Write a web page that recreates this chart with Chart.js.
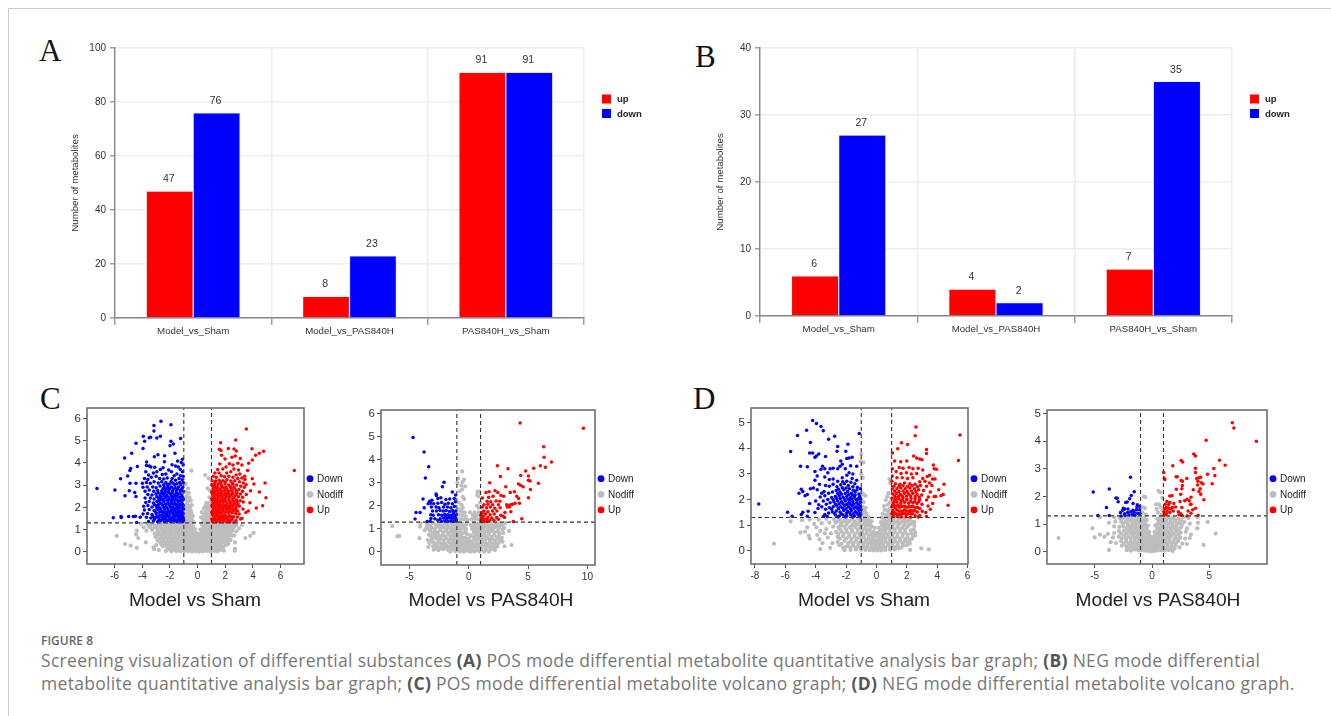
<!DOCTYPE html>
<html>
<head>
<meta charset="utf-8">
<title>Figure 8</title>
<script src="https://cdn.jsdelivr.net/npm/chart.js@4"></script>
<style>
  html, body { margin: 0; background: #fff; }
  body { position: relative; width: 1331px; height: 716px; overflow: hidden; font-family: "Liberation Sans", sans-serif; }
  canvas { position: absolute; filter: blur(0.35px); }
  .rule-top { position: absolute; left: 8px; right: 0; top: 8px; height: 1px; background: #ccc; }
  .rule-left { position: absolute; left: 8px; top: 8px; bottom: 0; width: 1px; background: #ccc; }
  .letter { position: absolute; font: 31px "Liberation Serif", serif; color: #111; line-height: 30px; }
  .vtitle { position: absolute; top: 589px; width: 240px; text-align: center; font-size: 19.2px; line-height: 22px; color: #222; }
  .cap { position: absolute; left: 41px; white-space: nowrap; font-family: "Open Sans", sans-serif; color: #777; }
  .line { font-size: 17.5px; letter-spacing: 0.3px; line-height: 22px; }
  .cap b { font-weight: 700; color: #555; }
</style>
</head>
<body>
<div class="rule-top"></div>
<div class="rule-left"></div>
<div class="letter" style="left:39px;top:36px">A</div>
<div class="letter" style="left:695px;top:42px">B</div>
<div class="letter" style="left:40px;top:384px">C</div>
<div class="letter" style="left:693px;top:384px">D</div>
<canvas id="barA"></canvas>
<canvas id="barB"></canvas>
<canvas id="volC1"></canvas>
<canvas id="volC2"></canvas>
<canvas id="volD1"></canvas>
<canvas id="volD2"></canvas>
<div class="vtitle" style="left:75px">Model vs Sham</div>
<div class="vtitle" style="left:371px">Model vs PAS840H</div>
<div class="vtitle" style="left:744px">Model vs Sham</div>
<div class="vtitle" style="left:1038px">Model vs PAS840H</div>
<div class="cap" style="top:632px;font-size:12px;font-weight:600;color:#666">FIGURE 8</div>
<div class="cap line" style="top:649px">Screening visualization of differential substances <b>(A)</b> POS mode differential metabolite quantitative analysis bar graph; <b>(B)</b> NEG mode differential</div>
<div class="cap line" style="top:672px">metabolite quantitative analysis bar graph; <b>(C)</b> POS mode differential metabolite volcano graph; <b>(D)</b> NEG mode differential metabolite volcano graph.</div>

<script>
// bar panels
const barCategories = ['Model_vs_Sham', 'Model_vs_PAS840H', 'PAS840H_vs_Sham'];
const aUp = [47, 8, 91];
const aDown = [76, 23, 91];
const bUp = [6, 4, 7];
const bDown = [27, 2, 35];
const aTicks = [0, 20, 40, 60, 80, 100];
const bTicks = [0, 10, 20, 30, 40];

// volcano panels, flat lists of x,y
const c1Down = [
-7.28,2.85,-5.98,2.78,-6.1,1.53,-5.54,1.59,-5.52,1.54,-4.99,1.59,-4.65,1.59,-4.5,1.6,-4.41,1.32,-5.25,2.52,-4.94,2.75,-4.55,2.67,-4.46,2.49,
-4.89,3.08,-4.46,3.08,-5.57,3.29,-5.06,3.41,-4.84,3.75,-4.9,3.66,-4.36,3.84,-5.28,4.22,-4.77,4.43,-3.95,4.65,-4.46,4.88,-3.83,4.97,-3.93,5.2,
-3.4,5.15,-3.5,5.13,-3.16,5.43,-3.16,5.68,-2.65,5.87,-1.93,5.72,-2.7,5.2,-2.95,5.12,-1.23,5.1,-1.93,4.97,-1.76,4.85,-2,4.77,-1.64,4.43,-2.87,4.37,
-3.13,4.28,-2.39,4.32,-1.1,4.16,-1.45,4.08,-1.18,4.02,-2.4,4.05,-3.69,4.04,-3.7,3.88,-3.5,3.86,-3.38,3.82,-3.1,3.8,-2.7,3.7,-2.5,3.78,-1.85,3.92,
-1.6,3.86,-1.4,3.82,-1.25,3.7,-1.05,3.9,-2.1,3.68,-1.9,3.6,-1.1,3.6,-3.75,3.6,-3.55,3.45,-3.2,3.55,-2.95,3.6,-2.55,3.48,-2.3,3.5,-1.7,3.42,-1.5,3.5,
-1.25,3.42,-1.05,3.4,-3.85,3.3,-3.6,3.25,-3.35,3.35,-3,3.4,-2.75,3.3,-2.45,3.28,-2.2,3.32,-1.85,3.3,-1.6,3.22,-1.35,3.3,-1.12,3.24,-4,3.08,-3.7,3.12,
-3.42,3.08,-3.15,3.15,-2.85,3.1,-2.6,3.15,-2.3,3.12,-2.05,3.05,-1.78,3.08,-1.5,3.06,-1.22,3.02,-1.04,3.12,-3.95,2.9,-3.65,2.92,-3.25,2.92,-3,2.88,
-2.72,2.96,-2.42,2.92,-2.15,2.9,-1.9,2.92,-1.62,2.88,-1.38,2.92,-1.08,2.9,-3.8,2.72,-3.5,2.78,-3.18,2.72,-2.9,2.76,-2.6,2.74,-2.35,2.72,-2.08,2.78,
-1.82,2.72,-1.55,2.74,-1.26,2.76,-1.04,2.72,-3.6,2.58,-3.3,2.55,-3.02,2.6,-2.72,2.56,-2.48,2.6,-2.22,2.56,-1.96,2.6,-1.68,2.56,-1.42,2.6,-1.15,2.55,
-3.8,2.42,-3.42,2.42,-3.15,2.38,-2.82,2.42,-2.58,2.36,-2.32,2.44,-2.05,2.38,-1.8,2.44,-1.55,2.38,-1.28,2.44,-1.04,2.38,-3.75,2.22,-3.5,2.26,-3.2,2.2,
-2.95,2.26,-2.7,2.2,-2.45,2.26,-2.15,2.22,-1.9,2.26,-1.65,2.2,-1.4,2.26,-1.15,2.2,-3.9,2.05,-3.6,2.08,-3.3,2.02,-3,2.08,-2.78,2,-2.52,2.08,-2.28,2.02,
-2.02,2.08,-1.78,2.02,-1.52,2.08,-1.28,2.02,-1.05,2.08,-3.85,1.88,-3.5,1.9,-3.15,1.86,-2.88,1.9,-2.62,1.84,-2.38,1.9,-2.12,1.86,-1.88,1.9,-1.64,1.85,
-1.4,1.9,-1.16,1.85,-1.02,1.92,-3.95,1.7,-3.62,1.72,-3.3,1.68,-3,1.72,-2.72,1.66,-2.48,1.72,-2.24,1.68,-2,1.72,-1.76,1.68,-1.52,1.73,-1.3,1.68,-1.06,1.72,
-4.15,1.55,-3.7,1.55,-3.38,1.52,-3.05,1.55,-2.8,1.5,-2.55,1.55,-2.32,1.5,-2.08,1.56,-1.85,1.5,-1.62,1.56,-1.4,1.5,-1.18,1.56,-1.03,1.5,-3.55,1.36,-3.2,1.4,
-2.9,1.35,-2.65,1.4,-2.4,1.35,-2.18,1.4,-1.95,1.35,-1.72,1.4,-1.5,1.35,-1.28,1.4,-1.08,1.35,-2.05,1.6,-1.72,1.8,-1.46,1.62,-1.12,1.62,-1.9,1.8,-1.3,1.8,
-1.58,1.96,-1.22,2.12,-1.7,2.14,-1.42,2.5,-1.74,2.34,-2.12,2.68,-2.7,2.34,-1.12,2.3,-1.32,1.52,-1.75,1.45,-2.2,1.78,-1.02,1.42,-1.1,1.75,
-1.14,1.44,-1.38,1.46,-1.6,1.43,-1.84,1.44,-2.05,1.46,-2.28,1.43,-2.52,1.46,-2.78,1.43,-3.1,1.47,-1.08,1.6,-1.24,1.62,-1.56,1.63,-1.78,1.6,-2.2,1.62,-2.42,1.6,
-2.66,1.62,-2.92,1.6,-3.22,1.58,-1.2,1.78,-1.42,1.78,-1.62,1.8,-1.84,1.78,-2.06,1.8,-2.32,1.78,-2.55,1.8,-2.78,1.78,-3.08,1.82,-1.1,1.96,-1.34,1.96,-1.46,2,-1.72,1.95,
-1.95,2,-2.2,1.96,-2.45,1.98,-2.7,1.94,-2.95,1.98,-1.1,2.14,-1.34,2.14,-1.55,2.14,-1.86,2.16,-2.08,2.14,-2.32,2.14,-2.58,2.14,-2.82,2.14,-3.12,2.12,-1.22,2.32,-1.45,2.32,
-1.66,2.32,-1.92,2.34,-2.2,2.32,-2.45,2.34,-2.85,2.3,-1.1,2.46,-1.6,2.5,-1.9,2.5,-2.14,2.46,-2.42,2.5,-2.65,2.48,-2.95,2.48,-1.28,2.64,-1.54,2.64,-1.82,2.66,-2.36,2.64,
-2.6,2.65,-2.85,2.66,-1.15,2.82,-1.45,2.82,-1.75,2.82,-2.02,2.84,-2.28,2.82,-2.5,2.84,-1.3,3.12,-1.65,3,-1.92,3.16,-2.18,3,-2.45,3.02
];
const c1Up = [
6.99,3.66,3.52,5.53,2.75,5.03,1.66,4.91,3.93,4.64,4.77,4.52,4.46,4.43,4.19,4.34,1.57,4.61,1.69,4.56,2.22,4.65,2.63,4.62,2.8,4.53,1.73,4.34,1.98,4.17,
2.48,4.25,2.72,4.31,3.08,4.2,3.95,4.13,3.69,3.98,3.61,3.66,3.95,3.29,4.87,3.09,4.07,3.05,4.46,2.69,3.83,2.75,4.94,2.43,4.7,2.07,4.24,1.97,3.78,2.21,
3.66,1.83,3.49,1.77,3.11,1.47,3.2,1.5,3.52,2.58,2.9,3.98,2.55,3.9,2.3,3.96,2.05,3.82,1.6,3.95,1.82,3.72,2.62,3.72,2.95,3.68,3.2,3.9,1.45,3.7,1.25,3.55,
1.55,3.55,2.1,3.55,2.4,3.6,2.78,3.45,3.05,3.5,3.4,3.4,1.12,3.4,1.35,3.35,1.7,3.42,1.95,3.38,2.25,3.4,2.55,3.35,2.9,3.3,3.2,3.32,3.42,3.25,1.05,3.2,1.3,3.18,
1.55,3.22,1.82,3.2,2.12,3.24,2.4,3.18,2.68,3.2,3.02,3.15,3.3,3.1,3.5,3.02,1.02,3.02,1.22,3,1.48,3.05,1.72,3,1.98,3.06,2.25,3,2.55,3.04,2.82,3,3.12,2.95,3.38,2.9,
1.12,2.84,1.38,2.85,1.62,2.82,1.88,2.88,2.12,2.82,2.42,2.86,2.7,2.82,2.98,2.8,3.25,2.72,1.02,2.68,1.25,2.7,1.5,2.66,1.75,2.7,2,2.66,2.28,2.7,2.55,2.66,2.85,2.66,
3.1,2.6,1.1,2.52,1.35,2.55,1.6,2.5,1.85,2.55,2.12,2.5,2.4,2.55,2.68,2.5,2.95,2.48,3.25,2.45,1.02,2.38,1.22,2.36,1.45,2.4,1.72,2.35,1.98,2.4,2.25,2.35,2.52,2.38,
2.8,2.34,3.08,2.3,1.1,2.22,1.35,2.22,1.6,2.18,1.85,2.24,2.12,2.18,2.38,2.22,2.65,2.18,2.92,2.16,3.3,2.24,1.03,2.08,1.25,2.06,1.48,2.1,1.72,2.04,1.98,2.08,2.25,2.04,
2.5,2.06,2.78,2.02,3.02,2.05,1.12,1.92,1.35,1.94,1.6,1.9,1.85,1.94,2.1,1.9,2.35,1.92,2.62,1.88,2.9,1.84,3.28,1.92,1.03,1.78,1.22,1.76,1.48,1.8,1.72,1.75,1.98,1.78,
2.22,1.74,2.48,1.76,2.75,1.72,3,1.7,1.1,1.62,1.35,1.64,1.6,1.6,1.85,1.62,2.1,1.6,2.35,1.62,2.6,1.58,2.88,1.56,1.02,1.48,1.22,1.46,1.48,1.5,1.72,1.46,1.98,1.48,
2.22,1.44,2.48,1.46,2.78,1.42,1.1,1.34,1.35,1.35,1.6,1.34,1.85,1.36,2.1,1.34,2.35,1.36,2.62,1.33,1.2,1.6,1.08,1.82,1.18,2,1.42,2.3,1.3,1.45,1.78,1.54,1.92,2.3,
2.2,2.62,1.4,1.72,1.68,1.88,1.52,2.62,1.08,2.6,1.28,2.9,1.58,1.72,1.18,2.14,1.95,1.68,2.22,1.95,1.65,2.28,
1.12,1.42,1.38,1.42,1.6,1.45,1.85,1.42,2.1,1.46,2.35,1.42,1.24,1.54,1.48,1.56,1.72,1.58,1.96,1.55,2.22,1.58,2.48,1.55,1.12,1.72,1.3,1.82,1.54,1.86,1.8,1.84,2.05,1.84,
2.3,1.82,2.55,1.82,2.8,1.86,1.28,1.98,1.52,2,1.78,2,2.02,1.98,2.28,1.98,2.52,1.95,2.75,1.94,1.15,2.3,1.38,2.12,1.62,2.08,1.86,2.12,2.1,2.1,2.35,2.12,2.6,2.12,2.85,2.1,
1.28,2.3,1.52,2.3,1.78,2.3,2.02,2.28,2.3,2.28,2.58,2.28,2.86,2.26,1.22,2.44,1.5,2.46,1.78,2.45,2.05,2.46,2.32,2.46,2.6,2.44,1.25,2.6,1.45,2.58,1.72,2.6,1.98,2.58,2.22,2.6,
2.5,2.6,2.78,2.58,1.18,2.76,1.42,2.76,1.68,2.76,1.95,2.76,2.2,2.74,2.48,2.76,2.8,2.74,1.15,2.92,1.45,2.94,1.75,2.92,2.05,2.92,2.35,2.94,2.62,2.92,1.25,3.1,1.65,3.12,2,3.14,2.5,3.1
];
const c1Grey = [
-0.45,3.65,0.55,3.45,0.8,3.3,-0.85,3.05,-0.7,2.85,-0.9,2.7,-0.65,2.65,0.9,2.75,0.72,2.85,-0.8,2.5,-0.6,2.45,-0.9,2.35,-0.72,2.25,-0.5,2.3,0.85,2.45,0.92,2.25,
0.62,2.2,-0.85,2.1,-0.62,2.05,-0.42,2.1,0.72,2.05,0.45,1.95,0.88,2,-0.9,1.92,-0.72,1.88,-0.5,1.85,0.82,1.85,0.6,1.8,0.3,1.78,-0.92,1.72,-0.75,1.7,-0.55,1.66,
-0.35,1.62,0.92,1.68,0.7,1.62,0.5,1.6,0.25,1.55,-0.88,1.55,-0.65,1.5,-0.42,1.45,0.85,1.5,0.62,1.45,0.4,1.4,-0.96,1.4,-0.75,1.36,-0.5,1.32,-0.3,1.34,0.95,1.35,
0.72,1.32,0.5,1.28,0.32,1.24,-4.1,1.25,-3.6,1.22,-3.2,1.26,-2.8,1.24,-2.5,1.25,-2.2,1.24,-1.9,1.26,-1.6,1.25,-1.3,1.24,-1.05,1.26,-0.8,1.2,-0.55,1.18,-0.35,1.15,
-0.18,1.02,1.05,1.25,1.3,1.24,1.6,1.25,1.9,1.24,2.2,1.26,2.5,1.22,2.8,1.2,3.2,1.2,-3.9,1.1,-3.5,1.12,-3.1,1.1,-2.7,1.12,-2.4,1.08,-2.1,1.12,-1.8,1.1,-1.5,1.12,
-1.2,1.1,-0.9,1.1,-0.65,1.05,-0.42,1.02,0.2,1,0.42,1.1,0.68,1.12,0.95,1.1,1.22,1.12,1.5,1.08,1.78,1.12,2.05,1.1,2.35,1.08,2.6,1.1,3,1.05,-4.4,0.95,-3.7,0.95,
-3.3,0.98,-2.9,0.95,-2.6,0.98,-2.3,0.94,-2,0.96,-1.7,0.98,-1.42,0.94,-1.1,0.96,-0.85,0.95,-0.6,0.9,-0.35,0.88,-0.12,0.85,0.1,0.82,0.32,0.9,0.55,0.95,0.82,0.96,
1.1,0.95,1.38,0.98,1.65,0.94,1.92,0.96,2.2,0.94,2.5,0.95,2.78,0.92,4.05,0.85,-4.3,0.62,-3.1,0.82,-2.75,0.8,-2.45,0.82,-2.15,0.78,-1.85,0.8,-1.55,0.82,-1.25,0.78,
-0.98,0.8,-0.72,0.78,-0.48,0.72,-0.25,0.68,0,0.62,0.22,0.68,0.45,0.76,0.7,0.8,0.98,0.8,1.25,0.82,1.52,0.78,1.8,0.8,2.08,0.78,2.38,0.8,2.65,0.74,3.8,0.72,3.45,0.62,
-5.85,0.72,-4.45,0.78,-3.05,0.66,-2.6,0.65,-2.3,0.66,-2,0.62,-1.7,0.66,-1.4,0.64,-1.12,0.62,-0.88,0.64,-0.62,0.6,-0.38,0.55,-0.12,0.46,0.12,0.5,0.34,0.58,0.58,0.62,
0.85,0.64,1.12,0.66,1.4,0.62,1.68,0.64,1.95,0.62,2.22,0.64,2.15,0.45,-3.75,0.42,-2.9,0.5,-2.48,0.5,-2.18,0.48,-1.88,0.5,-1.58,0.48,-1.28,0.5,-1,0.48,-0.75,0.46,-0.5,0.42,
-0.25,0.36,0,0.3,0.25,0.38,0.48,0.45,0.72,0.48,1,0.5,1.28,0.48,1.55,0.5,1.82,0.48,2.05,0.3,2.7,0.42,-5.25,0.35,-4.85,0.28,-4.4,0.18,-3.2,0.2,-3,0.3,-2.6,0.33,-2.3,0.34,
-2,0.32,-1.7,0.34,-1.4,0.32,-1.12,0.34,-0.85,0.32,-0.6,0.28,-0.35,0.22,-0.1,0.16,0.15,0.2,0.38,0.28,0.62,0.32,0.88,0.34,1.15,0.32,1.42,0.34,1.7,0.3,2.7,0.14,-3.15,0.12,
-2.8,0.08,-2.2,0.18,-1.9,0.16,-1.6,0.18,-1.3,0.16,-1.02,0.18,-0.75,0.16,-0.5,0.12,-0.25,0.08,0,0.06,0.22,0.08,0.48,0.14,0.75,0.18,1,0.16,1.28,0.18,1.55,0.14,1.9,0.05,2.68,0.05,
-2.3,0.03,-1.9,0.02,-1.55,0.03,-1.25,0.02,-0.95,0.03,-0.68,0.02,-0.4,0.01,-0.12,0.02,0.12,0.01,0.38,0.02,0.65,0.03,0.92,0.02,1.2,0.03,1.45,0.02,
-3.4,1.18,-3,1.16,-2.65,1.18,-2.35,1.17,-2.05,1.18,-1.75,1.16,-1.45,1.18,-1.15,1.17,-0.9,1.18,-0.68,1.14,0.55,1.18,0.8,1.16,1.12,1.18,1.42,1.17,1.72,1.18,2.02,1.17,2.32,1.16,2.65,1.15,
-3.3,1.03,-2.9,1.04,-2.55,1.03,-2.25,1.02,-1.95,1.04,-1.65,1.03,-1.35,1.02,-1.05,1.03,-0.78,1.02,-0.5,0.96,0.3,0.96,0.52,1.02,0.8,1.03,1.08,1.02,1.35,1.04,1.65,1.02,1.92,1.03,2.2,1.02,2.5,1.02,
-2.85,0.88,-2.52,0.88,-2.22,0.87,-1.92,0.88,-1.62,0.89,-1.32,0.87,-1.02,0.88,-0.75,0.87,-0.52,0.82,-0.28,0.8,-0.05,0.74,0.2,0.76,0.42,0.84,0.68,0.88,0.95,0.88,1.25,0.89,1.52,0.87,1.8,0.88,2.08,0.87,2.38,0.88,
-2.9,0.72,-2.6,0.73,-2.3,0.72,-2,0.73,-1.7,0.72,-1.4,0.73,-1.1,0.71,-0.85,0.72,-0.6,0.68,-0.35,0.62,-0.12,0.56,0.1,0.6,0.35,0.66,0.6,0.7,0.88,0.72,1.15,0.73,1.42,0.71,1.7,0.72,1.98,0.71,2.25,0.72,2.5,0.72,
-2.75,0.58,-2.45,0.58,-2.15,0.57,-1.85,0.58,-1.55,0.57,-1.25,0.58,-0.98,0.56,-0.75,0.54,-0.5,0.5,-0.25,0.44,0,0.4,0.24,0.46,0.48,0.54,0.72,0.56,1,0.58,1.28,0.57,1.55,0.58,1.82,0.56,2.08,0.56,2.38,0.52,
-2.7,0.42,-2.35,0.42,-2.05,0.41,-1.75,0.42,-1.45,0.41,-1.15,0.42,-0.88,0.4,-0.65,0.36,-0.4,0.3,-0.12,0.26,0.12,0.28,0.36,0.36,0.6,0.4,0.86,0.42,1.14,0.41,1.42,0.42,1.68,0.41,1.95,0.4,2.22,0.36,
-2.5,0.25,-2.15,0.25,-1.85,0.24,-1.55,0.26,-1.25,0.25,-0.95,0.26,-0.7,0.24,-0.45,0.2,-0.2,0.16,0.05,0.14,0.28,0.18,0.52,0.22,0.78,0.26,1.05,0.25,1.32,0.26,1.6,0.24,1.85,0.22,
-2.05,0.1,-1.75,0.09,-1.45,0.1,-1.15,0.09,-0.85,0.1,-0.6,0.08,-0.35,0.06,-0.1,0.08,0.15,0.06,0.38,0.09,0.62,0.1,0.88,0.09,1.15,0.1,1.42,0.09,1.72,0.08,
-0.75,1.48,-0.55,1.42,-0.82,1.62,-0.62,1.58,-0.42,1.55,-0.68,1.78,-0.45,1.74,-0.8,1.98,-0.55,1.95,-0.75,2.15,-0.62,2.32,0.38,1.5,0.6,1.55,0.8,1.6,0.45,1.7,0.65,1.7,0.9,1.8,0.7,1.92,0.55,2.05,0.82,2.15,0.75,1.38
];
const c2Down = [
-4.69,4.97,-3.76,4.35,-3.37,3.7,-3.65,3.22,-2.08,3.03,-2.22,2.84,-1.38,2.61,-2.75,2.52,-2.72,2.45,-1.1,2.48,-3.85,2.3,-4.44,1.72,-4.1,1.72,-4.52,1.43,-3.3,2.2,-3.1,2.25,
-2.6,2.32,-2.35,2.36,-1.92,2.28,-1.6,2.3,-1.22,2.32,-3.42,2.1,-3.2,2.12,-2.95,2.1,-2.6,2.12,-2.28,2.15,-2,2.08,-1.72,2.12,-1.38,2.1,-1.12,2.18,-3.75,1.92,-3.15,1.95,-2.75,1.95,
-2.5,1.92,-2.12,1.96,-1.78,1.95,-1.5,1.92,-1.2,1.98,-3.05,1.78,-2.72,1.78,-2.42,1.8,-2.15,1.78,-1.9,1.8,-1.62,1.76,-1.35,1.8,-1.08,1.78,-3.2,1.62,-3,1.6,-2.55,1.62,-2.28,1.6,
-2.02,1.64,-1.75,1.62,-1.5,1.6,-1.25,1.64,-1.05,1.62,-3.18,1.46,-2.85,1.45,-2.4,1.45,-2.12,1.48,-1.88,1.45,-1.62,1.48,-1.38,1.46,-1.12,1.48,-3.5,1.32,-3.25,1.34,-2.3,1.33,-2.02,1.35,
-1.78,1.33,-1.52,1.35,-1.28,1.33,-1.05,1.35,-2.6,1.38,-1.95,1.55,-1.7,1.5,-1.42,1.52,-1.18,1.55,-1.3,1.72,-1.08,1.42
];
const c2Up = [
4.33,5.61,9.66,5.38,6.32,4.57,6.35,4.12,6.97,3.91,2.42,3.75,3.31,3.62,6.46,3.68,6.04,3.75,5.48,3.64,4.8,3.52,2.67,3.28,4.38,3.32,5.03,3.3,5.03,3.12,5.17,3.09,5.87,2.99,1.77,3.01,
4.19,2.96,4.38,2.9,4.58,2.84,3.12,2.83,5.2,2.72,5.03,2.36,4.47,1.45,3.76,1.33,1.45,2.58,1.72,2.62,2.22,2.66,2.45,2.58,3.5,2.58,3.85,2.62,1.15,2.35,1.68,2.38,2.05,2.42,2.72,2.45,
2.95,2.42,4.05,2.42,4.2,2.32,1.55,2.2,1.85,2.18,2.3,2.22,2.62,2.2,3.7,2.08,3.9,2.12,4.28,2.12,1.28,2.05,1.62,2.08,2.02,2.05,2.5,2.05,3.2,2.05,3.4,2.02,3.52,2.05,1.15,1.95,1.5,1.92,
1.82,1.95,2.2,1.9,2.65,1.92,3.25,1.95,3.45,1.95,1.28,1.78,1.62,1.75,2,1.78,2.38,1.78,3.55,1.75,1.08,1.72,1.42,1.65,1.8,1.62,2.15,1.65,2.7,1.6,3.05,1.72,1.02,1.6,1.25,1.55,1.6,1.5,
1.95,1.48,2.35,1.5,2.9,1.55,1.05,1.48,1.2,1.42,1.48,1.42,1.78,1.38,2.12,1.38,2.5,1.42,3.02,1.5,1.03,1.38,1.12,1.33,1.3,1.32,1.55,1.34,1.12,1.68,1.22,1.46
];
const c2Grey = [
-0.55,3.5,-0.4,3.15,-0.88,3.2,-0.95,3,-0.52,3.05,-0.62,2.9,-0.3,2.85,-0.55,2.72,-0.75,2.65,0.75,2.62,0.9,2.62,0.72,2.48,-0.5,2.4,-0.38,2.3,0.82,2.42,-0.85,2.15,-0.6,2.05,0.95,2.15,
0.7,2,-0.5,1.92,-0.82,1.85,0.85,1.92,0.5,1.72,0.85,1.72,-0.62,1.75,-0.35,1.72,0.1,1.72,-0.85,1.62,-0.55,1.58,-0.25,1.55,0.35,1.6,0.62,1.58,0.92,1.62,-0.92,1.45,-0.65,1.42,-0.38,1.42,
-0.12,1.4,0.22,1.42,0.5,1.45,0.78,1.42,-4.05,1.25,-3.5,1.22,-3,1.26,-2.5,1.2,-2,1.24,-1.5,1.25,-1.1,1.22,-0.8,1.26,-0.5,1.22,-0.2,1.2,0.15,1.18,0.45,1.25,0.75,1.22,1.1,1.25,1.45,1.26,
1.9,1.22,2.3,1.24,2.65,1.25,3.1,1.26,-6.45,1.12,-4.1,1.1,-3.55,1.08,-3.1,1.05,-2.6,1.1,-2.1,1.08,-1.6,1.06,-1.2,1.1,-0.9,1.05,-0.55,1.02,-0.22,0.98,0.28,1,0.6,1.05,0.95,1.08,1.35,1.1,
1.8,1.05,2.2,1.08,2.6,1.1,3,1.05,3.4,0.92,-3.7,0.95,-3.25,0.92,-2.85,0.9,-2.4,0.94,-1.95,0.92,-1.5,0.9,-1.15,0.92,-0.8,0.88,-0.45,0.82,-0.15,0.78,0.12,0.72,0.42,0.85,0.72,0.9,1.1,0.92,
1.5,0.9,1.95,0.92,2.4,0.9,2.9,0.82,-6,0.68,-5.85,0.7,-4.15,0.6,-3.35,0.75,-3.05,0.78,-2.65,0.76,-2.2,0.74,-1.75,0.78,-1.35,0.74,-1,0.76,-0.65,0.7,-0.3,0.62,0,0.58,0.3,0.68,0.6,0.74,
0.95,0.76,1.3,0.74,1.72,0.78,2.15,0.74,2.55,0.7,2.8,0.62,-3.45,0.52,-3.1,0.58,-2.75,0.6,-2.35,0.58,-1.9,0.6,-1.5,0.58,-1.15,0.6,-0.8,0.55,-0.45,0.48,-0.15,0.42,0.15,0.45,0.48,0.55,0.82,0.6,
1.2,0.58,1.6,0.6,2,0.56,2.42,0.58,2.85,0.45,-3.3,0.38,-2.95,0.42,-2.55,0.44,-2.1,0.42,-1.7,0.44,-1.32,0.42,-0.95,0.44,-0.6,0.38,-0.3,0.3,0,0.28,0.3,0.32,0.65,0.4,1,0.44,1.4,0.42,1.8,0.44,
2.2,0.4,2.5,0.38,3.6,0.3,3.02,0.25,-3.4,0.22,-3,0.25,-2.65,0.26,-2.25,0.28,-1.85,0.26,-1.45,0.28,-1.08,0.26,-0.75,0.24,-0.42,0.18,-0.12,0.14,0.18,0.16,0.5,0.24,0.85,0.26,1.25,0.28,1.65,0.26,
2.05,0.28,2.4,0.24,-2.95,0.1,-2.55,0.08,-2.15,0.12,-1.75,0.1,-1.35,0.12,-0.98,0.1,-0.62,0.08,-0.3,0.06,0,0.04,0.32,0.06,0.68,0.1,1.05,0.12,1.45,0.1,1.85,0.12,2.2,0.08,-1.55,0.02,-1.12,0.03,
-0.75,0.02,-0.4,0.01,0.15,0.02,0.5,0.02,0.9,0.03,1.3,0.02,1.7,0.02,
-3.25,1.15,-2.75,1.16,-2.25,1.15,-1.8,1.16,-1.35,1.15,-0.98,1.16,-0.68,1.12,-0.38,1.08,0.32,1.1,0.6,1.15,0.92,1.16,1.22,1.16,1.62,1.16,2.05,1.16,2.45,1.15,2.85,1.16,-3.35,1,-2.85,1,-2.35,1.02,
-1.85,1,-1.38,1,-1.02,1,-0.72,0.96,-0.3,0.88,0.42,0.95,0.82,1,1.22,1.01,1.62,1,2.05,1,2.5,1,2.85,0.98,-2.95,0.84,-2.6,0.84,-2.15,0.85,-1.72,0.84,-1.3,0.84,-0.98,0.84,-0.62,0.8,0.6,0.82,0.9,0.84,
1.3,0.84,1.72,0.85,2.15,0.84,2.6,0.82,-3.2,0.68,-2.85,0.68,-2.45,0.68,-2,0.67,-1.55,0.68,-1.2,0.67,-0.85,0.66,-0.5,0.6,-0.12,0.52,0.45,0.65,0.78,0.67,1.12,0.67,1.5,0.68,1.92,0.66,2.35,0.66,2.7,0.54,
-3.15,0.5,-2.55,0.52,-2.12,0.51,-1.7,0.52,-1.32,0.52,-0.98,0.52,-0.62,0.48,-0.3,0.42,0,0.38,0.3,0.46,0.65,0.5,1,0.52,1.38,0.5,1.8,0.52,2.2,0.5,2.6,0.48,-2.8,0.34,-2.35,0.36,-1.95,0.34,-1.55,0.36,-1.2,0.34,
-0.88,0.34,-0.5,0.3,-0.15,0.24,0.15,0.26,0.48,0.32,0.82,0.34,1.2,0.34,1.6,0.34,1.98,0.34,2.35,0.32,-2.75,0.18,-2.4,0.18,-2,0.19,-1.62,0.2,-1.28,0.19,-0.95,0.18,-0.62,0.16,-0.25,0.12,0.3,0.14,0.65,0.18,1,0.19,
1.4,0.2,1.8,0.19,2.15,0.16
];
const d1Down = [
-7.75,1.83,-5.85,1.51,-5.55,1.35,-4.85,1.51,-4.95,1.42,-4.55,1.35,-5.65,3.87,-5.2,4.5,-4.6,4.7,-4.2,5.08,-3.95,4.97,-3.65,4.85,-3.5,4.68,-3.15,4.35,-2.75,4.47,-2.55,4.07,-2.6,3.88,-1.88,4.16,
-1.13,4.58,-2.02,3.88,-4.35,4.23,-4.4,3.82,-4.2,3.82,-4.05,3.65,-3.95,3.7,-3.8,3.78,-3.35,3.68,-5,3.3,-4.55,3.28,-4.05,3.1,-3.9,2.92,-3.65,3.18,-3.55,3.3,-3.4,3.2,-3.2,3.05,-3.05,3.2,
-2.85,3.22,-2.55,3.2,-2.4,3.3,-2.35,3.5,-2.25,3.38,-1.95,3.6,-1.8,3.62,-1.6,3.65,-1.7,3.32,-1.3,3.3,-2.05,3.2,-1.8,3.05,-1.55,3,-4.05,2.75,-3.75,2.6,-3.4,2.88,-3.1,2.78,-2.85,2.8,-2.55,2.72,
-2.25,2.85,-1.95,2.95,-1.6,2.82,-1.3,2.75,-4.95,2.4,-4.85,2.32,-5.1,2.25,-4.7,2.15,-4.55,2.2,-4.35,2.42,-4.15,2.45,-3.9,2.38,-3.6,2.25,-3.45,2.32,-3.35,2.55,-3.1,2.52,-2.85,2.6,-2.6,2.5,
-2.35,2.58,-2.1,2.62,-1.85,2.55,-1.55,2.5,-1.25,2.48,-1.05,2.42,-3.7,2.1,-3.4,2.15,-3.15,2.25,-2.9,2.3,-2.65,2.35,-2.4,2.3,-2.15,2.38,-1.9,2.32,-1.65,2.25,-1.4,2.3,-1.15,2.22,-4,1.95,-3.8,1.8,
-3.5,1.95,-3.2,2,-2.95,2.08,-2.7,2.12,-2.45,2.15,-2.2,2.1,-1.95,2.12,-1.7,2.08,-1.45,2.1,-1.2,2.04,-1.03,2.02,-4.4,1.85,-3.85,1.65,-3.6,1.72,-3.3,1.82,-3.05,1.88,-2.8,1.92,-2.55,1.95,-2.3,1.92,
-2.05,1.95,-1.8,1.9,-1.55,1.92,-1.3,1.88,-1.05,1.9,-4.5,1.55,-4.05,1.5,-3.35,1.62,-3.1,1.68,-2.85,1.72,-2.6,1.75,-2.35,1.72,-2.1,1.76,-1.85,1.72,-1.6,1.75,-1.35,1.72,-1.1,1.75,-3.4,1.42,-3.15,1.48,
-2.9,1.52,-2.65,1.56,-2.4,1.52,-2.15,1.58,-1.9,1.54,-1.65,1.58,-1.4,1.54,-1.15,1.58,-1.02,1.6,-3.5,1.34,-3.25,1.35,-2.7,1.4,-2.45,1.36,-2.2,1.4,-1.95,1.36,-1.7,1.4,-1.45,1.36,-1.2,1.4,-1.03,1.42,
-2.55,1.32,-2.05,1.33,-1.55,1.32,-1.08,1.33,-1.3,1.48,-1.75,1.48,-1.25,1.66,-1.5,1.82,-2,1.64,-1.22,1.98,-1.05,1.72,-1.75,1.98,-1.4,2.18,
-1.1,1.46,-1.52,1.45,-1.98,1.46,-2.32,1.45,-2.75,1.46,-1.2,1.64,-1.48,1.66,-1.72,1.64,-2.22,1.66,-2.5,1.64,-2.95,1.62,-1.2,1.82,-1.72,1.82,-1.95,1.82,-2.2,1.84,-2.45,1.84,-2.7,1.82,-1.35,2,-1.6,2.02,
-1.88,2.02,-2.12,2.02,-2.38,2.04,-2.62,2.04,-2.85,2,-1.1,2.12,-1.58,2.18,-1.82,2.2,-2.05,2.24,-2.3,2.22,-2.55,2.24,-1.28,2.38,-1.52,2.36,-1.78,2.42,-2,2.45,-2.25,2.46,-2.5,2.4,-1.42,2.62,-1.68,2.68,-1.95,2.72,-2.22,2.7
];
const d1Up = [
5.5,4.52,5.4,3.52,2.6,4.83,2.55,4.49,2.05,4.15,1.65,4.22,1.4,3.98,1.05,3.82,3.3,3.95,3.3,3.8,2.45,3.7,2.65,3.62,2.85,3.58,3,3.55,1.6,3.48,2,3.5,1.2,3.5,3.75,3.35,3.8,3.2,3.95,3.18,1.5,3.25,
1.75,3.22,2.15,3.25,2.4,3.2,2.75,3.22,3.05,3.15,1.05,3.2,1.3,3.1,1.62,3.02,1.98,3.05,2.3,3,2.65,3.02,3.05,2.82,3.35,2.9,3.5,2.95,3.7,2.8,3.85,2.8,1.05,2.92,1.35,2.85,1.7,2.85,2.05,2.82,2.4,2.85,
2.85,2.7,3.2,2.72,3.5,2.65,4.45,2.6,1.02,2.72,1.25,2.62,1.55,2.6,1.85,2.65,2.2,2.62,2.55,2.6,2.9,2.55,3.3,2.52,3.65,2.55,4.1,2.38,1.05,2.42,1.35,2.42,1.6,2.45,1.9,2.42,2.2,2.45,2.5,2.42,2.78,2.38,
3.1,2.35,3.55,2.3,4.4,2.2,4.25,2.15,3.9,2.12,3.8,2.12,1.08,2.22,1.32,2.24,1.58,2.2,1.85,2.25,2.12,2.22,2.4,2.24,2.68,2.2,2.98,2.18,3.42,2.1,1.02,2.05,1.25,2.08,1.5,2.02,1.75,2.08,2,2.02,2.28,2.05,
2.55,2.02,2.85,2,3.3,1.98,3.7,1.85,4.72,1.78,1.1,1.88,1.35,1.9,1.6,1.85,1.85,1.9,2.12,1.86,2.4,1.88,2.68,1.85,3,1.82,3.4,1.75,1.02,1.72,1.25,1.74,1.5,1.7,1.75,1.74,2,1.7,2.25,1.72,2.55,1.68,2.85,1.65,
3.25,1.5,3.55,1.62,1.08,1.58,1.35,1.6,1.6,1.56,1.85,1.6,2.12,1.56,2.4,1.58,2.7,1.52,3.02,1.55,1.02,1.45,1.25,1.46,1.5,1.42,1.75,1.46,2,1.42,2.25,1.45,2.55,1.38,2.85,1.38,3.3,1.34,1.08,1.34,1.35,1.34,
1.65,1.33,1.95,1.33,2.25,1.32,2.75,1.32,1.15,1.52,1.22,1.68,1.42,1.78,1.18,1.96,1.62,1.96,1.45,2.12,1.72,1.55,1.38,1.42,
1.12,1.42,1.62,1.44,1.88,1.45,2.12,1.46,2.38,1.45,1.48,1.55,1.98,1.55,2.25,1.58,2.55,1.56,1.14,1.8,1.6,1.72,1.88,1.74,2.12,1.72,2.4,1.74,2.7,1.7,1.3,2,1.72,1.98,2,1.98,2.25,1.94,2.52,1.92,2.78,1.92,
1.2,2.14,1.7,2.14,1.98,2.14,2.25,2.14,2.55,2.12,2.82,2.1,1.2,2.34,1.48,2.32,1.75,2.34,2.02,2.32,2.3,2.34,2.6,2.32,1.15,2.52,1.48,2.52,1.75,2.54,2.05,2.52,2.35,2.54,2.7,2.5
];
const d1Grey = [
-1,3.78,-0.85,3.45,-1.05,3.5,-1,3,-0.9,2.85,0.85,2.8,0.9,2.65,-0.85,2.2,-0.95,2.25,-0.72,2.15,0.8,2.25,0.72,2.12,0.62,1.98,-0.85,1.9,0.9,1.9,0.5,1.75,0.75,1.8,-0.92,1.72,-0.72,1.68,0.9,1.65,0.55,1.6,
-0.9,1.5,-0.65,1.45,0.82,1.5,0.42,1.45,-0.78,1.35,-0.52,1.32,0.35,1.3,0.62,1.32,0.92,1.35,-5.65,1.15,-4.9,1.2,-4.4,1.22,-3.8,1.22,-3.3,1.25,-2.8,1.24,-2.4,1.22,-2,1.24,-1.6,1.25,-1.2,1.26,-0.85,1.22,
-0.5,1.2,-0.32,1.15,0.3,1.12,0.55,1.2,0.85,1.24,1.15,1.25,1.5,1.26,1.85,1.25,2.2,1.22,2.5,1.12,-4.1,1.05,-3.6,1.08,-3.1,1.1,-2.7,1.1,-2.3,1.08,-1.9,1.1,-1.5,1.08,-1.15,1.1,-0.82,1.05,-0.55,1,-0.3,0.95,
-0.1,0.9,0.15,0.9,0.35,0.98,0.62,1.05,0.92,1.08,1.22,1.1,1.55,1.08,1.9,1.1,2.25,1.05,2.5,0.98,-4.55,0.92,-3.95,0.92,-3.7,0.78,-3.3,0.85,-2.85,0.95,-2.5,0.92,-2.12,0.94,-1.75,0.92,-1.4,0.94,-1.05,0.92,
-0.75,0.88,-0.48,0.82,-0.22,0.75,0,0.7,0.22,0.74,0.48,0.84,0.75,0.9,1.05,0.92,1.38,0.94,1.7,0.9,2.05,0.94,2.45,0.84,2.55,0.72,-5,0.72,-4.7,0.75,-4.45,0.6,-3.9,0.62,-3.4,0.68,-3,0.68,-2.65,0.74,-2.3,0.76,
-1.95,0.74,-1.6,0.76,-1.25,0.74,-0.95,0.74,-0.65,0.7,-0.38,0.64,-0.15,0.58,0.1,0.56,0.35,0.65,0.6,0.72,0.9,0.76,1.2,0.74,1.55,0.76,1.9,0.72,2.3,0.68,2.55,0.6,-4.4,0.48,-3.75,0.45,-3.2,0.52,-2.55,0.55,-2.2,0.58,
-1.82,0.56,-1.45,0.58,-1.12,0.56,-0.82,0.54,-0.52,0.5,-0.28,0.45,-0.05,0.42,0.2,0.45,0.45,0.52,0.75,0.56,1.05,0.58,1.38,0.56,1.72,0.58,2.05,0.52,2.35,0.48,-6.75,0.28,-3.55,0.3,-2.9,0.3,-2.55,0.35,-2.1,0.4,-1.7,0.38,
-1.35,0.4,-1,0.38,-0.7,0.36,-0.42,0.32,-0.18,0.28,0.08,0.28,0.32,0.34,0.6,0.38,0.9,0.4,1.22,0.38,1.55,0.4,1.9,0.38,2.1,0.3,2.2,0.28,-3.7,0.07,-3.05,0.12,-2.45,0.22,-2.2,0.12,-1.9,0.2,-1.55,0.22,-1.2,0.2,-0.88,0.22,
-0.6,0.18,-0.32,0.14,-0.08,0.12,0.18,0.14,0.45,0.18,0.75,0.22,1.05,0.2,1.4,0.22,1.75,0.2,1.45,0.1,2.22,0.04,2.95,0.1,3.45,0.06,-2.1,0.03,-1.7,0.04,-1.35,0.06,-1,0.05,-0.72,0.04,-0.45,0.03,-0.2,0.02,0.05,0.02,0.3,0.02,
0.58,0.04,0.88,0.05,1.2,0.06,
-2.55,1.15,-2.15,1.16,-1.78,1.16,-1.42,1.16,-1.05,1.18,-0.72,1.12,-0.42,1.05,0.42,1.05,0.72,1.14,1.05,1.16,1.38,1.16,1.72,1.17,2.05,1.16,2.38,1.14,-2.35,1,-1.98,1.02,-1.62,1,-1.28,1.02,-0.98,1,-0.68,0.96,
-0.4,0.88,0.25,0.82,0.5,0.94,0.78,0.98,1.08,1,1.45,1.02,1.8,1,2.12,1,-2.4,0.84,-2,0.84,-1.62,0.84,-1.22,0.84,-0.9,0.82,-0.62,0.78,-0.32,0.7,-0.1,0.64,0.1,0.66,0.35,0.78,0.62,0.84,0.92,0.84,1.22,0.84,1.55,0.86,
1.88,0.84,2.25,0.8,-2.5,0.66,-2.15,0.67,-1.78,0.66,-1.42,0.66,-1.1,0.66,-0.82,0.64,-0.52,0.6,-0.25,0.54,0.22,0.56,0.48,0.62,0.75,0.66,1.05,0.66,1.38,0.66,1.72,0.67,2.05,0.64,2.4,0.58,-2.4,0.48,-2,0.48,-1.62,0.48,
-1.28,0.48,-0.98,0.48,-0.68,0.44,-0.4,0.4,-0.15,0.36,0.08,0.36,0.32,0.42,0.6,0.48,0.9,0.48,1.2,0.48,1.55,0.48,1.88,0.46,2.2,0.42,-2.3,0.28,-1.85,0.3,-1.52,0.3,-1.18,0.3,-0.85,0.3,-0.58,0.28,-0.3,0.24,-0.05,0.2,
0.2,0.24,0.45,0.28,0.75,0.3,1.05,0.3,1.38,0.3,1.72,0.3,2,0.22,-2.05,0.14,-1.72,0.13,-1.38,0.14,-1.05,0.13,-0.75,0.12,-0.48,0.1,-0.2,0.08,0.05,0.08,0.32,0.08,0.6,0.12,0.9,0.13,1.22,0.14,1.6,0.12,
-0.72,1.25,-0.62,1.1,0.78,1.32,0.65,1.42,0.72,1.58,-0.78,1.55,-0.68,1.22,0.45,1.22,-0.88,1.62,0.85,1.42
];
const d2Down = [
-5.13,2.16,-3.73,2.27,-1.87,2.7,-1.55,2.17,-1.81,2.04,-1.95,1.92,-3.15,1.95,-3.03,1.94,-2.95,1.81,-3.97,1.6,-4.72,1.31,-3.73,1.31,-2.16,1.8,-2.3,1.78,-2.5,1.58,-1.65,1.75,-1.28,1.7,-1.12,1.65,-1.32,1.62,-2.55,1.5,
-2.38,1.55,-2.1,1.55,-1.65,1.5,-1.35,1.52,-1.08,1.52,-2.75,1.42,-2.4,1.38,-2.12,1.42,-1.85,1.45,-1.55,1.42,-1.25,1.4,-1.05,1.38,-2.7,1.3,-2.35,1.32,-2,1.33,-1.72,1.35,-1.5,1.32
];
const d2Up = [
7,4.67,7.14,4.48,9.1,4,4.72,4.04,3.64,3.54,3.79,3.47,5.89,3.31,2.54,3.3,2.68,3.25,6.38,3.13,1.81,3.11,3.79,3.02,5.39,3.01,1.02,2.87,3.79,2.87,3.03,2.65,4.84,2.81,5.48,2.76,5.25,2.46,1.08,2.65,1.12,2.62,
2.1,2.72,2.2,2.72,2.55,2.58,2.65,2.55,4.25,2.7,4.1,2.68,4,2.55,3.9,2.65,4.3,2.5,4.45,2.45,3.98,2.42,4.2,2.28,2.65,2.4,2.6,2.28,2.12,2.26,4.1,2.18,3.6,2.25,4.25,2.08,2.5,2.08,1.75,2.03,1.55,2.02,2.85,1.85,
3.05,1.9,3.4,1.97,3.25,1.85,4.52,1.88,1.3,1.82,1.45,1.7,2.45,1.82,3.4,1.72,2.6,1.6,3.8,1.58,3.55,1.52,3.35,1.72,1.15,1.72,1.55,1.78,1.9,1.75,1.78,1.6,1.25,1.6,1.45,1.58,1.65,1.55,2.05,1.62,1.1,1.55,1.32,1.48,
1.05,1.45,1.55,1.42,1.85,1.48,2.3,1.45,2.5,1.38,3.15,1.48,3.4,1.4,1.12,1.35,1.25,1.38,1.05,1.32,2.35,1.34,2.6,1.32,3.05,1.3,4.02,1.32
];
const d2Grey = [
-0.72,2,-0.6,1.98,0.55,2.2,0.72,2.15,0.9,1.95,0.35,1.72,0.62,1.72,-0.85,1.62,-0.62,1.58,0.4,1.55,0.75,1.62,0.92,1.5,-0.85,1.42,-0.55,1.35,0.52,1.42,0.85,1.35,-4.55,1.25,-3.3,1.25,-2.85,1.22,-2.45,1.24,
-2.05,1.25,-1.7,1.26,-1.35,1.24,-1.05,1.26,-0.7,1.22,-0.45,1.15,0.45,1.2,0.72,1.24,1.05,1.22,1.45,1.25,1.85,1.24,2.3,1.2,2.75,1.25,3.2,1.22,3.95,1.25,-3.75,1.05,-3.2,1.1,-2.7,1.1,-2.3,1.08,-1.9,1.12,-1.55,1.08,
-1.2,1.1,-0.9,1.06,-0.58,1,-0.35,0.95,0.3,0.95,0.55,1.05,0.85,1.08,1.2,1.1,1.6,1.08,2,1.1,2.4,1.05,2.8,1.08,3.3,1.02,4,1.05,4.85,1.08,-5.2,0.85,-3.3,0.92,-2.85,0.9,-2.5,0.92,-2.1,0.94,-1.75,0.92,-1.4,0.94,
-1.05,0.92,-0.75,0.88,-0.48,0.8,-0.25,0.72,0.22,0.72,0.45,0.85,0.72,0.9,1.02,0.92,1.4,0.94,1.8,0.92,2.15,0.94,2.55,0.9,3.05,0.85,3.95,0.85,-4.55,0.62,-3.85,0.65,-3.3,0.68,-2.9,0.75,-2.45,0.76,-2.05,0.74,-1.7,0.76,
-1.35,0.74,-1,0.76,-0.7,0.72,-0.42,0.64,-0.18,0.56,0,0.52,0.2,0.56,0.42,0.66,0.7,0.72,1,0.76,1.35,0.74,1.7,0.76,2.1,0.74,2.5,0.7,2.95,0.72,3.4,0.62,5.55,0.66,-8.15,0.5,-5,0.52,-4.15,0.55,-3.4,0.52,-2.9,0.55,
-2.45,0.58,-2.05,0.56,-1.65,0.58,-1.3,0.56,-0.95,0.58,-0.65,0.54,-0.38,0.48,-0.12,0.42,0.12,0.42,0.38,0.5,0.65,0.56,0.95,0.58,1.3,0.56,1.65,0.58,2.05,0.55,2.45,0.52,2.9,0.48,3.3,0.5,-3.6,0.35,-3.15,0.32,-2.7,0.38,
-2.25,0.4,-1.85,0.38,-1.5,0.4,-1.15,0.38,-0.85,0.4,-0.55,0.36,-0.28,0.3,-0.05,0.28,0.22,0.32,0.5,0.38,0.82,0.4,1.15,0.38,1.5,0.4,1.85,0.36,2.25,0.38,2.65,0.3,3.05,0.28,4.5,0.25,-3.75,0.07,-2.65,0.22,-2.25,0.2,
-1.9,0.22,-1.55,0.2,-1.2,0.22,-0.9,0.2,-0.62,0.18,-0.35,0.16,-0.1,0.14,0.15,0.16,0.42,0.2,0.7,0.22,1.02,0.2,1.35,0.22,1.7,0.2,2.05,0.22,2.4,0.16,-2.2,0.06,-1.85,0.04,-1.5,0.08,-1.2,0.05,-0.9,0.06,-0.6,0.04,
-0.32,0.03,-0.05,0.02,0.2,0.03,0.5,0.05,0.8,0.06,1.1,0.04,1.45,0.06,1.8,0.03,
-2.65,1.16,-2.2,1.16,-1.78,1.17,-1.42,1.16,-1.05,1.16,-0.72,1.1,0.62,1.14,0.92,1.16,1.28,1.16,1.65,1.16,2.05,1.16,2.5,1.14,-2.55,1.02,-2.12,1.02,-1.72,1,-1.35,1.02,-1.02,1,-0.72,0.98,-0.48,0.9,0.42,0.98,0.72,1,
1.05,1.02,1.42,1,1.78,1,2.2,1.02,2.6,0.98,-2.2,0.84,-1.88,0.84,-1.55,0.84,-1.22,0.84,-0.9,0.82,-0.62,0.74,-0.32,0.62,0.32,0.64,0.58,0.78,0.88,0.84,1.22,0.84,1.6,0.84,2,0.84,2.35,0.82,-2.7,0.66,-2.25,0.66,-1.85,0.67,
-1.52,0.67,-1.18,0.66,-0.85,0.66,-0.52,0.6,-0.28,0.5,0.3,0.5,0.55,0.65,0.85,0.67,1.18,0.66,1.52,0.67,1.9,0.66,2.3,0.64,-2.65,0.48,-2.25,0.48,-1.85,0.48,-1.5,0.48,-1.12,0.48,-0.8,0.48,-0.5,0.44,-0.22,0.38,0.02,0.36,
0.28,0.42,0.55,0.47,0.88,0.49,1.22,0.48,1.55,0.48,1.95,0.46,2.3,0.46,-2.45,0.3,-2.05,0.3,-1.68,0.3,-1.32,0.3,-1,0.3,-0.7,0.28,-0.42,0.24,-0.15,0.2,0.1,0.22,0.38,0.28,0.65,0.3,1,0.3,1.32,0.3,1.68,0.3,2.05,0.3,
-2.1,0.12,-1.72,0.13,-1.38,0.13,-1.05,0.12,-0.75,0.12,-0.48,0.1,-0.22,0.08,0.05,0.08,0.3,0.1,0.6,0.12,0.92,0.13,1.25,0.13,1.6,0.12,1.95,0.12
];
const c1XTicks = [-6, -4, -2, 0, 2, 4, 6];
const c2XTicks = [-5, 0, 5, 10];
const d1XTicks = [-8, -6, -4, -2, 0, 2, 4, 6];
const d2XTicks = [-5, 0, 5];
const c1YTicks = [0, 1, 2, 3, 4, 5, 6];
const d1YTicks = [0, 1, 2, 3, 4, 5];

const pairs = flat => {
  const out = [];
  for (let i = 0; i < flat.length; i += 2) out.push({ x: flat[i], y: flat[i + 1] });
  return out;
};

// value labels above the bars
const barValues = {
  id: 'barValues',
  afterDatasetsDraw(chart) {
    const ctx = chart.ctx;
    ctx.save();
    ctx.font = '10.5px "Liberation Sans"';
    ctx.fillStyle = '#333';
    ctx.textAlign = 'center';
    chart.data.datasets.forEach((ds, i) => {
      chart.getDatasetMeta(i).data.forEach((bar, j) => {
        ctx.fillText(ds.data[j], bar.x - 1, bar.y - 9);
      });
    });
    ctx.restore();
  }
};

// legend to the right of a panel, own plugin since it sits in a fixed spot
const sideLegend = {
  id: 'sideLegend',
  afterDraw(chart, args, opts) {
    const ctx = chart.ctx, a = chart.chartArea;
    ctx.save();
    ctx.font = opts.font;
    ctx.textBaseline = 'middle';
    chart.data.datasets.filter(d => d.label).forEach((ds, i) => {
      const color = ds.backgroundColor;
      const x = a.right + opts.dx, y = opts.y + i * opts.gap;
      ctx.fillStyle = color;
      if (opts.square) {
        ctx.fillRect(x, y - 4.5, 9, 9);
      } else {
        ctx.beginPath();
        ctx.arc(x, y, 3.4, 0, Math.PI * 2);
        ctx.fill();
      }
      ctx.fillStyle = opts.textColor;
      ctx.fillText(ds.label, x + opts.textDx, y + 0.5);
    });
    ctx.restore();
  }
};

// box round the volcano plots
const frame = {
  id: 'frame',
  afterDatasetsDraw(chart) {
    if (chart.config.type !== 'scatter') return;
    const a = chart.chartArea, ctx = chart.ctx;
    ctx.save();
    ctx.strokeStyle = '#707070';
    ctx.lineWidth = 1.6;
    ctx.strokeRect(a.left, a.top, a.right - a.left, a.bottom - a.top);
    ctx.restore();
  }
};

function place(id, plot, gut) {
  const c = document.getElementById(id);
  c.width = plot.r - plot.l + gut.l + gut.r;
  c.height = plot.b - plot.t + gut.t + gut.b;
  c.style.left = (plot.l - gut.l) + 'px';
  c.style.top = (plot.t - gut.t) + 'px';
  return c;
}

function drawBar(id, plot, up, down, yMax, yTicks) {
  const gut = { l: 47, t: 12, r: 75, b: 28 };
  const c = place(id, plot, gut);
  new Chart(c.getContext('2d'), {
    type: 'bar',
    data: {
      labels: barCategories,
      datasets: [
        { label: 'up', data: up, backgroundColor: '#ff0000', borderColor: '#ffd0d0', borderWidth: 0.6 },
        { label: 'down', data: down, backgroundColor: '#0000ff', borderColor: '#c8c8ff', borderWidth: 0.6 }
      ]
    },
    plugins: [barValues, sideLegend],
    options: {
      responsive: false,
      animation: false,
      devicePixelRatio: 1,
      layout: { padding: { top: gut.t, right: gut.r } },
      datasets: { bar: { categoryPercentage: 0.6, barPercentage: 1 } },
      plugins: {
        legend: { display: false },
        tooltip: { enabled: false },
        sideLegend: { dx: 18, y: 99 - plot.t + gut.t, gap: 14.5, square: true, textDx: 15, font: 'bold 9.5px "Liberation Sans"', textColor: '#222' }
      },
      scales: {
        x: {
          border: { color: '#888', width: 1.4 },
          grid: { color: '#eee', lineWidth: 1.6, tickColor: '#888', tickLength: 7, tickWidth: 1.2 },
          ticks: { color: '#333', font: { size: 9.7, family: '"Liberation Sans"' }, padding: 1, maxRotation: 0, autoRotate: false },
          afterFit: s => { s.height = gut.b; }
        },
        y: {
          min: 0,
          max: yMax,
          afterBuildTicks: s => { s.ticks = yTicks.map(v => ({ value: v })); },
          border: { color: '#888', width: 1.4 },
          grid: { color: '#eee', lineWidth: 1.6, tickColor: '#888', tickLength: 5, tickWidth: 1.2 },
          ticks: { color: '#333', font: { size: 10, family: '"Liberation Sans"' }, padding: 4 },
          title: { display: true, text: 'Number of metabolites', color: '#333', font: { size: 9.7, family: '"Liberation Sans"' }, padding: { top: 2, bottom: 0 } },
          afterFit: s => { s.width = gut.l; }
        }
      }
    }
  });
}

function drawVolcano(id, plot, xr, yr, down, grey, up, xTicks, yTicks, pThresh) {
  const gut = { l: 32, t: 12, r: 50, b: 24 };
  const c = place(id, plot, gut);
  const dash = pts => ({ data: pts, showLine: true, pointRadius: 0, borderColor: '#333', borderWidth: 1.1, borderDash: [4, 3] });
  new Chart(c.getContext('2d'), {
    type: 'scatter',
    data: {
      datasets: [
        dash([{ x: -1, y: yr[0] }, { x: -1, y: yr[1] }]),
        dash([{ x: 1, y: yr[0] }, { x: 1, y: yr[1] }]),
        dash([{ x: xr[0], y: pThresh }, { x: xr[1], y: pThresh }]),
        { label: 'Down', data: pairs(down), backgroundColor: '#0000ff', pointRadius: 1.75, pointBorderWidth: 0 },
        { label: 'Nodiff', data: pairs(grey), backgroundColor: '#bdbdbd', pointRadius: 2.1, pointBorderWidth: 0, order: 5 },
        { label: 'Up', data: pairs(up), backgroundColor: '#ff0000', pointRadius: 1.75, pointBorderWidth: 0 }
      ]
    },
    plugins: [frame, sideLegend],
    options: {
      responsive: false,
      animation: false,
      devicePixelRatio: 1,
      layout: { padding: { top: gut.t, right: gut.r } },
      plugins: {
        legend: { display: false },
        tooltip: { enabled: false },
        sideLegend: { dx: 6, y: 478.7 - plot.t + gut.t, gap: 15.6, textDx: 7, font: '10px "Liberation Sans"', textColor: '#222' }
      },
      scales: {
        x: {
          type: 'linear',
          min: xr[0],
          max: xr[1],
          afterBuildTicks: s => { s.ticks = xTicks.map(v => ({ value: v })); },
          border: { display: false },
          grid: { drawOnChartArea: false, color: '#555', tickLength: 4 },
          ticks: { color: '#333', font: { size: 10, family: '"Liberation Sans"' }, padding: 2, maxRotation: 0 },
          afterFit: s => { s.height = gut.b; }
        },
        y: {
          min: yr[0],
          max: yr[1],
          afterBuildTicks: s => { s.ticks = yTicks.map(v => ({ value: v })); },
          border: { display: false },
          grid: { drawOnChartArea: false, color: '#555', tickLength: 4 },
          ticks: { color: '#333', font: { size: 11.5, family: '"Liberation Sans"' }, padding: 2 },
          afterFit: s => { s.width = gut.l; }
        }
      }
    }
  });
}

drawBar('barA', { l: 115, t: 48, r: 584, b: 318 }, aUp, aDown, 100, aTicks);
drawBar('barB', { l: 760, t: 48, r: 1232, b: 316 }, bUp, bDown, 40, bTicks);

drawVolcano('volC1', { l: 87, t: 408, r: 304, b: 564 }, [-8.0, 7.69], [-0.55, 6.47], c1Down, c1Grey, c1Up, c1XTicks, c1YTicks, 1.3);
drawVolcano('volC2', { l: 381, t: 410, r: 595, b: 565 }, [-7.39, 10.64], [-0.565, 6.17], c2Down, c2Grey, c2Up, c2XTicks, c1YTicks, 1.3);
drawVolcano('volD1', { l: 751, t: 408, r: 968, b: 564 }, [-8.26, 6.03], [-0.51, 5.57], d1Down, d1Grey, d1Up, d1XTicks, d1YTicks, 1.3);
drawVolcano('volD2', { l: 1047, t: 410, r: 1267, b: 564 }, [-9.16, 10.03], [-0.44, 5.13], d2Down, d2Grey, d2Up, d2XTicks, d1YTicks, 1.3);
</script>
</body>
</html>
